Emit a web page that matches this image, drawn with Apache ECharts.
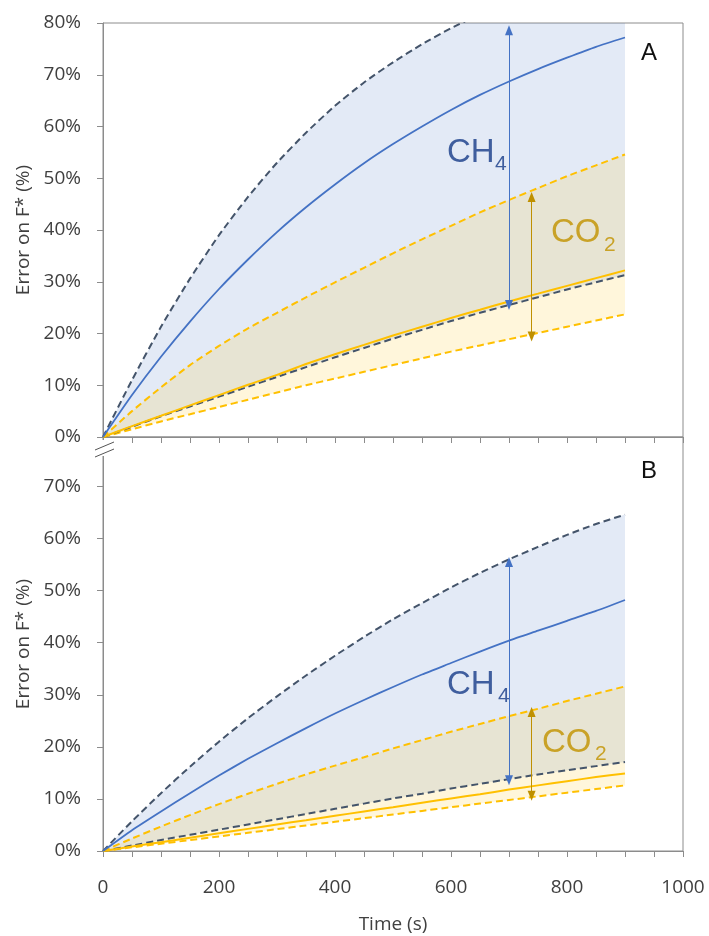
<!DOCTYPE html>
<html>
<head>
<meta charset="utf-8">
<script src="https://cdn.jsdelivr.net/npm/echarts@6/dist/echarts.min.js"></script>
<style>
  html, body { margin: 0; padding: 0; background: #ffffff; }
  #chart { width: 709px; height: 936px; }
</style>
</head>
<body>
<div id="chart"></div>
<script>
// Time axis (s)
const times = [0, 50, 100, 150, 200, 250, 300, 350, 400, 450, 500, 550, 600, 650, 700, 750, 800, 850, 900];
const xTickLabels = [0, 200, 400, 600, 800, 1000];

// Panel A — error on F* (%)
const ch4UpperA = [0, 11.0, 21.3, 30.6, 39.0, 46.4, 53.0, 58.8, 64.0, 68.5, 72.4, 75.9, 79.0, 81.7, 84.0, 86.1, 88.0, 89.6, 91.0];
const ch4MeanA  = [0, 8.1, 15.5, 22.3, 28.6, 34.3, 39.6, 44.4, 48.8, 52.9, 56.6, 60.0, 63.2, 66.1, 68.7, 71.1, 73.3, 75.4, 77.2];
const ch4LowerA = [0, 2.0, 4.0, 5.9, 7.8, 9.7, 11.6, 13.5, 15.4, 17.2, 19.0, 20.7, 22.4, 24.0, 25.5, 27.0, 28.5, 29.9, 31.3];
const co2UpperA = [0, 5.0, 9.6, 13.9, 17.6, 21.0, 24.0, 27.0, 29.9, 32.7, 35.5, 38.2, 40.8, 43.4, 45.8, 48.1, 50.4, 52.5, 54.6];
const co2MeanA  = [0, 2.1, 4.1, 6.1, 8.1, 10.1, 12.0, 14.1, 16.0, 17.8, 19.6, 21.3, 23.0, 24.6, 26.2, 27.7, 29.2, 30.7, 32.2];
const co2LowerA = [0, 1.5, 3.0, 4.4, 5.8, 7.2, 8.6, 10.0, 11.3, 12.6, 13.9, 15.2, 16.5, 17.7, 18.9, 20.1, 21.3, 22.5, 23.7];

// Panel B — error on F* (%)
const ch4UpperB = [0, 5.7, 11.1, 16.2, 21.0, 25.5, 29.7, 33.7, 37.5, 41.1, 44.5, 47.6, 50.6, 53.4, 56.0, 58.4, 60.7, 62.8, 64.6];
const ch4MeanB  = [0, 4.0, 7.6, 11.1, 14.5, 17.7, 20.7, 23.6, 26.4, 29.0, 31.5, 33.9, 36.1, 38.3, 40.4, 42.3, 44.2, 46.1, 48.2];
const ch4LowerB = [0, 1.05, 2.1, 3.1, 4.1, 5.1, 6.1, 7.1, 8.1, 9.1, 10.1, 11.0, 12.0, 12.9, 13.8, 14.7, 15.5, 16.3, 17.1];
const co2UpperB = [0, 2.4, 4.7, 6.9, 9.0, 11.0, 12.9, 14.7, 16.4, 18.0, 19.7, 21.3, 22.9, 24.4, 25.9, 27.3, 28.8, 30.2, 31.6];
const co2MeanB  = [0, 0.85, 1.7, 2.55, 3.4, 4.25, 5.1, 5.9, 6.75, 7.6, 8.4, 9.25, 10.1, 10.9, 11.8, 12.6, 13.4, 14.2, 14.9];
const co2LowerB = [0, 0.7, 1.4, 2.1, 2.8, 3.5, 4.2, 4.9, 5.6, 6.3, 7.0, 7.7, 8.4, 9.1, 9.8, 10.5, 11.2, 11.9, 12.6];

// Double-headed range arrows: [time, from %, to %]
const ch4SpanA = [700, 25.5, 78.6];
const co2SpanA = [739, 19.4, 46.4];
const ch4SpanB = [700, 13.6, 55.5];
const co2SpanB = [739, 10.6, 26.7];

const C = {
  ch4Line: '#4472C4',
  ch4Dash: '#44546A',
  co2: '#FFC000',
  co2Arrow: '#BF9000',
  ch4Fill: 'rgba(68,114,196,0.15)',
  co2Fill: 'rgba(255,192,0,0.14)',
  axis: '#8c8c8c',
  text: '#404040',
  ch4Text: '#3F5E9E',
  co2Text: '#C9A227'
};
const FONT = '"Open Sans", "Noto Sans", sans-serif';
const ARIAL = '"Liberation Sans", Arial, sans-serif';

const pairs = arr => times.map((t, i) => [t, arr[i]]);

// Shaded uncertainty band between a lower and an upper curve, clipped to the plot area
function band(g, lower, upper, fill) {
  return {
    type: 'custom', xAxisIndex: g, yAxisIndex: g, silent: true, z: 1,
    data: [[0, 0]],
    renderItem: (params, api) => {
      const top = upper.map((v, i) => api.coord([times[i], v]));
      const bottom = lower.map((v, i) => api.coord([times[i], v])).reverse();
      const cs = params.coordSys;
      return {
        type: 'polygon',
        shape: { points: top.concat(bottom) },
        style: { fill: fill, stroke: null },
        clipPath: { type: 'rect', shape: { x: cs.x, y: cs.y, width: cs.width, height: cs.height } }
      };
    }
  };
}

function curve(g, arr, color, dashed, width, z, span, spanColor) {
  const s = {
    type: 'line', xAxisIndex: g, yAxisIndex: g, data: pairs(arr), showSymbol: false, silent: true,
    smooth: 0.2,
    lineStyle: { color: color, width: width, type: dashed ? [7, 4] : 'solid' }, z: z
  };
  if (span) {
    s.markLine = {
      silent: true, symbol: ['triangle', 'triangle'], symbolSize: [8, 10],
      label: { show: false }, emphasis: { disabled: true },
      lineStyle: { color: spanColor, width: 1, type: 'solid' },
      data: [[{ coord: [span[0], span[1]] }, { coord: [span[0], span[2]] }]]
    };
  }
  return s;
}

function panelSeries(g, d) {
  return [
    band(g, d.ch4Lower, d.ch4Upper, C.ch4Fill),
    band(g, d.co2Lower, d.co2Upper, C.co2Fill),
    curve(g, d.co2Lower, C.co2, true, 2, 3),
    curve(g, d.ch4Lower, C.ch4Dash, true, 2, 3),
    curve(g, d.co2Mean, C.co2, false, 2, 4, d.co2Span, C.co2Arrow),
    curve(g, d.co2Upper, C.co2, true, 2, 3),
    curve(g, d.ch4Mean, C.ch4Line, false, 1.8, 4, d.ch4Span, C.ch4Line),
    curve(g, d.ch4Upper, C.ch4Dash, true, 2, 3)
  ];
}

const xAxisBase = {
  type: 'value', min: 0, max: 1000, interval: 50,
  axisLine: { lineStyle: { color: C.axis, width: 1 } },
  axisTick: { length: 6, lineStyle: { color: C.axis } },
  splitLine: { show: false }
};
const yAxisBase = {
  type: 'value', min: 0, interval: 10,
  axisLine: { show: true, lineStyle: { color: C.axis, width: 1 } },
  axisTick: { show: true, length: 6, lineStyle: { color: C.axis } },
  splitLine: { show: false },
  axisLabel: { formatter: '{value}%', fontSize: 19, fontFamily: FONT, color: C.text, margin: 22, showMaxLabel: false },
  name: 'Error on F* (%)', nameLocation: 'middle', nameGap: 61,
  nameTextStyle: { fontSize: 19, fontFamily: FONT, color: C.text }
};

const chart = echarts.init(document.getElementById('chart'), null, { renderer: 'canvas' });
chart.setOption({
  animation: false,
  backgroundColor: '#ffffff',
  grid: [
    { left: 103, top: 23, width: 580, height: 414, show: true, borderColor: C.axis, borderWidth: 1, outerBoundsMode: 'none' },
    { left: 103, top: 437, width: 580, height: 414, show: true, borderColor: C.axis, borderWidth: 1, outerBoundsMode: 'none' }
  ],
  xAxis: [
    Object.assign({}, xAxisBase, { gridIndex: 0, axisLabel: { show: false } }),
    Object.assign({}, xAxisBase, {
      gridIndex: 1,
      axisLabel: {
        formatter: v => (xTickLabels.indexOf(v) >= 0 ? String(v) : ''),
        fontSize: 19, fontFamily: FONT, color: C.text, margin: 27
      },
      name: 'Time (s)', nameLocation: 'middle', nameGap: 64,
      nameTextStyle: { fontSize: 19, fontFamily: FONT, color: C.text }
    })
  ],
  yAxis: [
    Object.assign({}, yAxisBase, { gridIndex: 0, max: 80, axisLabel: Object.assign({}, yAxisBase.axisLabel, { showMaxLabel: true }) }),
    Object.assign({}, yAxisBase, { gridIndex: 1, max: 79.5 })
  ],
  series: [
    ...panelSeries(0, {
      ch4Upper: ch4UpperA, ch4Mean: ch4MeanA, ch4Lower: ch4LowerA,
      co2Upper: co2UpperA, co2Mean: co2MeanA, co2Lower: co2LowerA,
      ch4Span: ch4SpanA, co2Span: co2SpanA
    }),
    ...panelSeries(1, {
      ch4Upper: ch4UpperB, ch4Mean: ch4MeanB, ch4Lower: ch4LowerB,
      co2Upper: co2UpperB, co2Mean: co2MeanB, co2Lower: co2LowerB,
      ch4Span: ch4SpanB, co2Span: co2SpanB
    })
  ],
  graphic: [
    // axis break between the two panels
    { type: 'rect', shape: { x: 97, y: 440, width: 12, height: 16 }, style: { fill: '#ffffff' }, z: 100 },
    { type: 'line', shape: { x1: 95, y1: 450, x2: 114, y2: 442 }, style: { stroke: '#555555', lineWidth: 1 }, z: 101 },
    { type: 'line', shape: { x1: 95, y1: 457, x2: 114, y2: 449 }, style: { stroke: '#555555', lineWidth: 1 }, z: 101 },
    // panel letters
    { type: 'text', x: 649, y: 53, z: 100, style: { text: 'A', fontSize: 24, fontFamily: ARIAL, fill: '#111111', align: 'center', verticalAlign: 'middle' } },
    { type: 'text', x: 649, y: 471, z: 100, style: { text: 'B', fontSize: 24, fontFamily: ARIAL, fill: '#111111', align: 'center', verticalAlign: 'middle' } },
    // gas labels, panel A
    { type: 'text', x: 447, y: 153, z: 100, style: { text: 'CH', fontSize: 33, fontFamily: ARIAL, fill: C.ch4Text, align: 'left', verticalAlign: 'middle' } },
    { type: 'text', x: 495, y: 164, z: 100, style: { text: '4', fontSize: 21, fontFamily: ARIAL, fill: C.ch4Text, align: 'left', verticalAlign: 'middle' } },
    { type: 'text', x: 551, y: 233, z: 100, style: { text: 'CO', fontSize: 33, fontFamily: ARIAL, fill: C.co2Text, align: 'left', verticalAlign: 'middle' } },
    { type: 'text', x: 604, y: 245, z: 100, style: { text: '2', fontSize: 21, fontFamily: ARIAL, fill: C.co2Text, align: 'left', verticalAlign: 'middle' } },
    // gas labels, panel B
    { type: 'text', x: 447, y: 685, z: 100, style: { text: 'CH', fontSize: 33, fontFamily: ARIAL, fill: C.ch4Text, align: 'left', verticalAlign: 'middle' } },
    { type: 'text', x: 498, y: 696, z: 100, style: { text: '4', fontSize: 21, fontFamily: ARIAL, fill: C.ch4Text, align: 'left', verticalAlign: 'middle' } },
    { type: 'text', x: 542, y: 743, z: 100, style: { text: 'CO', fontSize: 33, fontFamily: ARIAL, fill: C.co2Text, align: 'left', verticalAlign: 'middle' } },
    { type: 'text', x: 595, y: 754, z: 100, style: { text: '2', fontSize: 21, fontFamily: ARIAL, fill: C.co2Text, align: 'left', verticalAlign: 'middle' } }
  ]
});
</script>
</body>
</html>
